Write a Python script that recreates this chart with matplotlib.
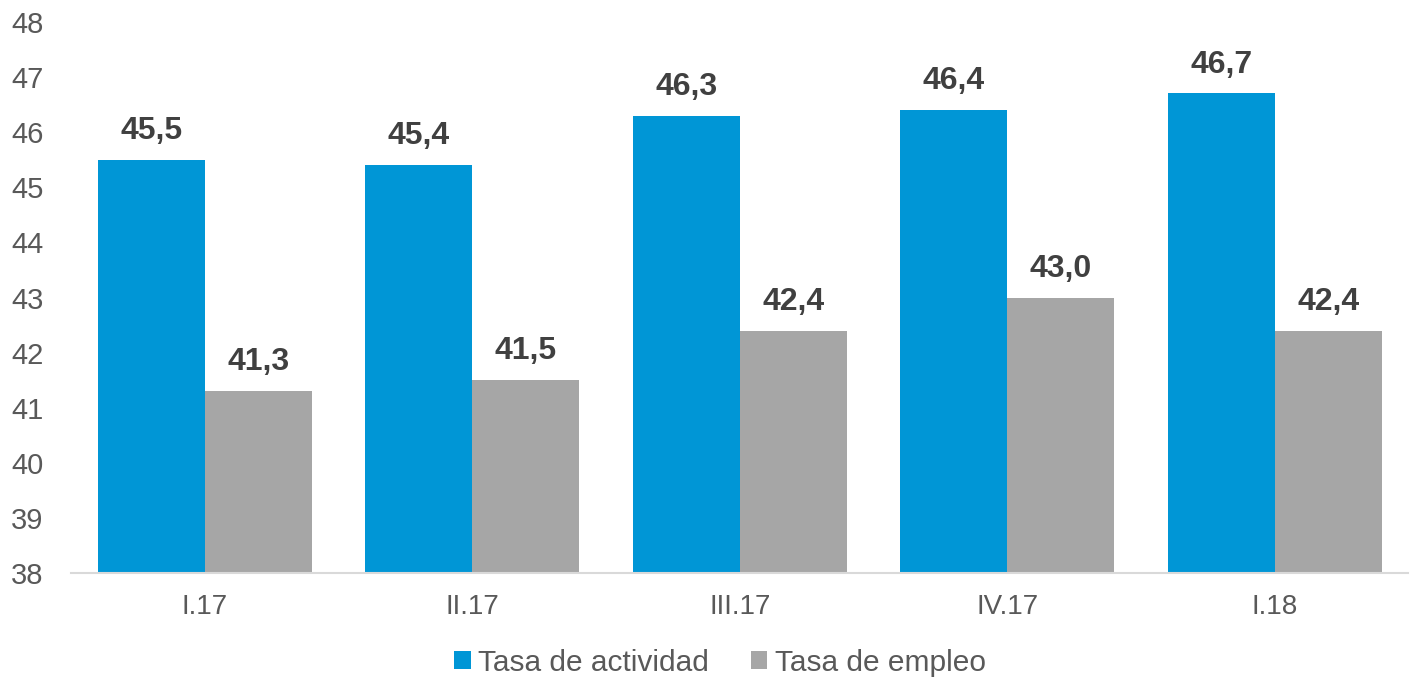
import matplotlib
matplotlib.use("Agg")
import matplotlib.pyplot as plt
import numpy as np

quarters = ["I.17", "II.17", "III.17", "IV.17", "I.18"]
actividad = [45.5, 45.4, 46.3, 46.4, 46.7]
empleo = [41.3, 41.5, 42.4, 43.0, 42.4]

BLUE = "#0096d6"
GRAY = "#a6a6a6"
TXT = "#595959"

plt.rcParams["font.family"] = ["Liberation Sans", "DejaVu Sans"]

fig = plt.figure(figsize=(14.12, 6.8), dpi=100)
ax = fig.add_axes([0.0505, 0.157, 0.947, 0.811])

x = np.arange(len(quarters))
w = 0.4
b1 = ax.bar(x - w / 2, np.array(actividad) - 38, w, bottom=38, color=BLUE, label="Tasa de actividad")
b2 = ax.bar(x + w / 2, np.array(empleo) - 38, w, bottom=38, color=GRAY, label="Tasa de empleo")

for xs, vals in [(x - w / 2, actividad), (x + w / 2, empleo)]:
    for xi, v in zip(xs, vals):
        ax.annotate(f"{v:.1f}".replace(".", ","), (xi, v), xytext=(0, 10), textcoords="offset points",
                    ha="center", va="bottom", fontsize=23, fontweight="bold", color="#404040")

ax.set_xlim(-0.5, len(quarters) - 0.5)
ax.set_ylim(38, 48)
ax.set_yticks(range(38, 49))
ax.set_xticks(x)
ax.set_xticklabels(quarters)
ax.tick_params(axis="both", length=0, labelsize=20, labelcolor=TXT)
ax.tick_params(axis="x", pad=15)
ax.tick_params(axis="y", pad=20, labelsize=21)
for s in ["top", "right", "left"]:
    ax.spines[s].set_visible(False)
ax.spines["bottom"].set_color("#d9d9d9")
ax.spines["bottom"].set_linewidth(1.5)

fig.legend(handles=[b1, b2], loc="center", bbox_to_anchor=(0.51, 0.025), ncol=2, frameon=False,
           fontsize=21.5, labelcolor=TXT, handlelength=0.55, handleheight=0.55, handletextpad=0.25,
           columnspacing=1.4)

fig.savefig("out.png", dpi=100)
